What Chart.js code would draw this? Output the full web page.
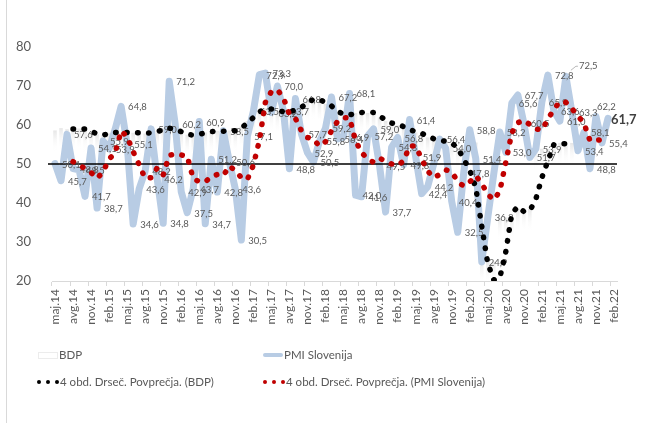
<!DOCTYPE html>
<html>
<head>
<meta charset="utf-8">
<script src="https://cdn.jsdelivr.net/npm/chart.js@4.4.1/dist/chart.umd.min.js"></script>
<style>
  html, body { margin: 0; padding: 0; background: #fff; }
  #wrap { position: relative; width: 654px; height: 423px; overflow: hidden; font-family: Lato, sans-serif; }
  #edge { position: absolute; left: 6px; top: 0; width: 1px; height: 423px; background: #d9d9d9; }
  .lg { position: absolute; font-size: 11.5px; color: #595959; white-space: nowrap; line-height: 14px; height: 14px; display: flex; align-items: center; }
  .box { display: inline-block; width: 18px; height: 5px; border: 1px solid #ececec; background: #fff; margin-right: 1px; }
  .bar { display: inline-block; width: 20px; height: 4px; border-radius: 2px; background: #B8CCE4; margin-right: 1px; }
  .dot { display: inline-block; width: 4px; height: 4px; border-radius: 50%; margin-right: 5px; }
  .dot:last-of-type { margin-right: 1px; }
</style>
</head>
<body>
<div id="wrap">
  <canvas id="chart" width="654" height="423"></canvas>
  <div id="edge"></div>
  <div class="lg" style="left:38px; top:348px;"><span class="box"></span>BDP</div>
  <div class="lg" style="left:263px; top:348px;"><span class="bar"></span>PMI Slovenija</div>
  <div class="lg" style="left:37px; top:375px;"><span class="dot" style="background:#000"></span><span class="dot" style="background:#000"></span><span class="dot" style="background:#000"></span>4 obd. Drseč. Povprečja. (BDP)</div>
  <div class="lg" style="left:263px; top:375px;"><span class="dot" style="background:#C00000"></span><span class="dot" style="background:#C00000"></span><span class="dot" style="background:#C00000"></span>4 obd. Drseč. Povprečja. (PMI Slovenija)</div>
</div>
<script>
// months maj.14 ... feb.22
const monthNames = ["jan", "feb", "mar", "apr", "maj", "jun", "jul", "avg", "sep", "okt", "nov", "dec"];
const labels = [];
for (let k = 0; k < 94; k++) {
  labels.push(monthNames[(4 + k) % 12] + "." + (14 + Math.floor((4 + k) / 12)));
}

const pmi = [
  50.1, 45.7, 57.6, 48.8, 48.5, 41.7, 54.1, 38.7, 55.9, 53.9,
  58.9, 64.8, 55.1, 34.6, 43.6, 48.2, 59.0, 46.2, 34.8, 71.2,
  60.2, 42.9, 37.5, 43.7, 60.9, 34.7, 51.2, 42.8, 58.5, 50.6,
  43.6, 30.5, 57.1, 63.5, 72.9, 73.3, 63.2, 70.0, 63.7, 48.8,
  66.8, 57.7, 52.9, 50.5, 55.8, 59.2, 67.2, 56.4, 56.9, 68.1,
  42.0, 41.6, 57.2, 59.0, 49.5, 37.7, 54.3, 56.8, 49.8, 61.4,
  51.9, 42.4, 44.2, 50.0, 56.4, 54.0, 40.4, 32.5, 47.8, 58.8,
  51.4, 24.9, 36.3, 47.5, 58.2, 53.0, 65.6, 67.7, 60.5, 51.7,
  53.9, 65.9, 72.8, 63.6, 61.0, 72.5, 63.3, 53.4, 58.1, 48.8,
  62.2, 55.4, 61.7, null
];

const bdp = [
  58.6, 59.2, 58.9, 59.0, 59.1, 58.8, 58.1, 57.6, 57.4, 57.9,
  58.2, 58.0, 58.1, 58.0, 57.9, 57.8, 58.1, 58.4, 58.9, 59.1,
  58.6, 58.0, 57.5, 57.3, 57.8, 58.1, 58.3, 58.5, 58.3, 58.6,
  58.4, 59.6, 61.0, 62.4, 63.6, 64.2, 64.0, 63.5, 63.2, 63.6,
  64.0, 64.8, 66.0, 66.8, 66.2, 65.4, 64.5, 63.1, 62.7, 62.8,
  63.1, 63.3, 63.1, 62.8, 61.9, 61.0, 60.3, 59.9, 59.2, 58.6,
  58.1, 57.6, 56.8, 56.4, 56.0, 55.6, 55.1, 54.0, 52.0, 56.0,
  55.5, 24.9, 24.9, 24.9, 36.3, 36.3, 36.3, 38.5, 38.5, 38.5,
  53.9, 53.9, 53.9, 55.4, 55.4, 55.4, 55.4, null, null, null,
  null, null, null, null
];

const bdpAvg = [
  null, null, null, 59.0, 59.0, 59.0, 58.3, 57.8, 57.4, 57.8,
  58.1, 58.1, 58.1, 58.0, 58.0, 57.9, 58.0, 58.3, 58.8, 59.2,
  58.8, 58.3, 57.6, 57.4, 57.6, 58.0, 58.3, 58.4, 58.4, 58.5,
  58.5, 59.2, 60.5, 61.9, 63.4, 64.0, 64.1, 63.7, 63.4, 63.4,
  63.8, 64.5, 65.7, 66.6, 66.5, 65.8, 64.9, 63.4, 62.9, 62.6,
  62.9, 63.2, 63.3, 63.2, 62.3, 61.3, 60.5, 60.1, 59.6, 58.8,
  58.3, 57.9, 57.0, 56.5, 56.1, 55.8, 55.4, 54.1, 51.3, 48.4,
  44.0, 34.0, 24.5, 20.3, 20.8, 27.5, 37.3, 39.1, 37.8, 38.0,
  41.0, 46.5, 50.8, 55.0, 55.2, 55.2, 55.0, null, null, null,
  null, null, null, null
];

const pmiAvg = [
  null, null, null, 50.6, 49.8, 48.8, 47.8, 46.3, 48.0, 51.3,
  52.8, 58.5, 57.0, 53.2, 49.8, 46.3, 46.5, 49.0, 47.2, 52.2,
  52.6, 52.3, 52.0, 46.2, 45.5, 45.4, 46.8, 47.3, 47.0, 49.5,
  48.3, 46.5, 46.0, 49.7, 56.0, 65.8, 68.6, 69.0, 67.0, 62.7,
  61.7, 58.5, 56.8, 56.3, 54.6, 55.7, 58.5, 60.9, 61.9, 61.8,
  56.0, 52.9, 51.4, 50.4, 51.5, 50.7, 50.0, 49.6, 50.8, 54.6,
  54.6, 51.3, 48.2, 46.5, 47.3, 48.5, 48.0, 45.5, 44.3, 45.4,
  47.0, 45.0, 42.2, 40.8, 43.0, 50.5, 58.0, 60.6, 61.2, 60.1,
  59.0, 58.7, 61.5, 64.0, 66.0, 65.8, 64.2, 62.3, 60.5, 56.0,
  56.1, 56.2, null, null
];

// PMI points that carry no value label
const pmiLabelSkip = [10, 63, 73];

const FONT = "Lato, sans-serif";
const GREY = "#595959";

// faint gradient bars for BDP
function bdpFill(ctx) {
  const chart = ctx.chart;
  if (!chart.chartArea || ctx.raw == null) return "rgba(0,0,0,0)";
  const top = chart.scales.y.getPixelForValue(ctx.raw);
  const g = chart.ctx.createLinearGradient(0, top, 0, top + 22);
  g.addColorStop(0, "rgba(185,185,185,0.35)");
  g.addColorStop(1, "rgba(255,255,255,0)");
  return g;
}

// 50 line and value labels, drawn right after the PMI line (under the dots)
const pmiOverlay = {
  id: "pmiOverlay",
  afterDatasetDraw(chart, args) {
    if (args.index !== 1) return;
    const c = chart.ctx;
    const area = chart.chartArea;
    const y50 = chart.scales.y.getPixelForValue(50);
    c.save();
    c.strokeStyle = "#000";
    c.lineWidth = 1.3;
    c.beginPath();
    c.moveTo(area.left - 4, y50);
    c.lineTo(area.right, y50);
    c.stroke();

    let last = pmi.length - 1;
    while (pmi[last] == null) last--;

    c.textBaseline = "middle";
    c.textAlign = "left";
    args.meta.data.forEach((pt, i) => {
      const v = pmi[i];
      if (v == null || pmiLabelSkip.includes(i)) return;
      const txt = v.toFixed(1).replace(".", ",");
      c.font = "9.5px " + FONT;
      c.fillStyle = GREY;
      if (i === last) {
        c.font = "bold 13px " + FONT;
        c.fillStyle = "#404040";
        c.fillText(txt, pt.x + 3, pt.y + 1);
      } else if (i === last - 2) {
        // label sits above its point
        c.fillText(txt, pt.x + 1, pt.y - 9);
      } else if (i === 85) {
        c.strokeStyle = "#a6a6a6";
        c.lineWidth = 0.8;
        c.beginPath();
        c.moveTo(pt.x + 5, pt.y - 6);
        c.lineTo(pt.x + 10, pt.y - 10);
        c.lineTo(pt.x + 12, pt.y - 10);
        c.stroke();
        c.fillText(txt, pt.x + 13, pt.y - 10);
      } else {
        c.fillText(txt, pt.x + 7, pt.y + 1);
      }
    });
    c.restore();
  }
};

new Chart(document.getElementById("chart"), {
  type: "bar",
  data: {
    labels: labels,
    datasets: [
      {
        label: "BDP",
        data: bdp,
        backgroundColor: bdpFill,
        borderWidth: 0,
        barPercentage: 0.6,
        categoryPercentage: 1,
        order: 4,
      },
      {
        type: "line",
        label: "PMI Slovenija",
        data: pmi,
        borderColor: "#B8CCE4",
        borderWidth: 7,
        borderJoinStyle: "round",
        borderCapStyle: "round",
        pointRadius: 0,
        tension: 0,
        order: 3,
      },
      {
        type: "line",
        label: "4 obd. Drseč. Povprečja. (BDP)",
        data: bdpAvg,
        borderColor: "#000000",
        borderWidth: 5.5,
        borderDash: [0.5, 10.5],
        borderCapStyle: "round",
        pointRadius: 0,
        tension: 0,
        order: 2,
      },
      {
        type: "line",
        label: "4 obd. Drseč. Povprečja. (PMI Slovenija)",
        data: pmiAvg,
        borderColor: "#C00000",
        borderWidth: 5.5,
        borderDash: [0.5, 10.5],
        borderCapStyle: "round",
        pointRadius: 0,
        tension: 0,
        order: 1,
      },
    ],
  },
  options: {
    responsive: false,
    animation: false,
    layout: { padding: { left: 0, right: 37, top: 47, bottom: 82 } },
    plugins: {
      legend: { display: false },
      tooltip: { enabled: false },
    },
    scales: {
      x: {
        offset: true,
        grid: {
          offset: true,
          drawOnChartArea: false,
          tickLength: 5,
          color: (c) => (c.index % 3 === 0 ? "#D9D9D9" : "rgba(0,0,0,0)"),
        },
        border: { color: "#D9D9D9" },
        ticks: {
          autoSkip: false,
          minRotation: 90,
          maxRotation: 90,
          padding: 3,
          color: GREY,
          font: { family: FONT, size: 12 },
          callback: (v, i) => (i % 3 === 0 ? labels[i] : ""),
        },
        afterFit: (s) => { s.height = 60; },
      },
      y: {
        min: 20,
        max: 80,
        ticks: {
          stepSize: 10,
          padding: 13,
          color: GREY,
          font: { family: FONT, size: 13 },
        },
        grid: { display: false },
        border: { display: false },
        afterFit: (s) => { s.width = 52; },
      },
    },
  },
  plugins: [pmiOverlay],
});
</script>
</body>
</html>
